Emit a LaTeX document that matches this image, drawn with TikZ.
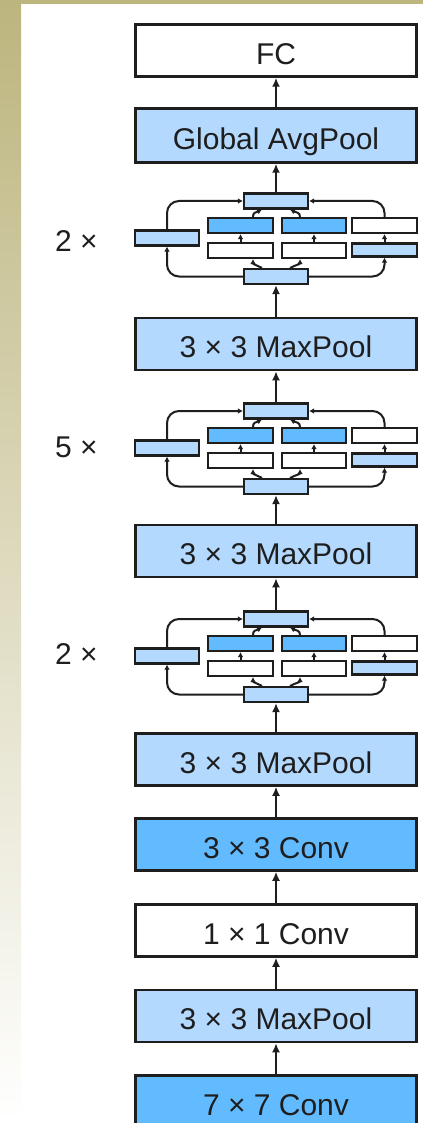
\documentclass[tikz,border=0pt]{standalone}
\usepackage{fontspec}
\setmainfont{Liberation Sans}
\usetikzlibrary{arrows.meta,calc}
\definecolor{lb}{HTML}{B3D9FF}
\definecolor{db}{HTML}{63BBFF}
\definecolor{lc}{HTML}{1E1E1E}
\definecolor{olv}{HTML}{BCB57E}
\newcommand{\incep}[2]{%
\begin{scope}[shift={(0,#2)}]
\node[sb, fill=lb] (#1t) at (276,7) {};
\node[sb, fill=db, minimum width=65pt] (#1a1) at (240.5,31.5) {};
\node[sb, fill=db] (#1b1) at (314,31.5) {};
\node[sb, fill=white, minimum width=65pt] (#1c1) at (384.5,31.5) {};
\node[sb, fill=white, minimum width=65pt] (#1a2) at (240.5,56.5) {};
\node[sb, fill=white] (#1b2) at (314,56.5) {};
\node[sb, fill=lb, minimum width=65pt, minimum height=13pt] (#1c2) at (384.5,56) {};
\node[sb, fill=lb] (#1d) at (167,44) {};
\node[sb, fill=lb] (#1s) at (276,82.5) {};
\draw[sa] (#1a2) -- (#1a1);
\draw[sa] (#1b2) -- (#1b1);
\draw[sa] (#1c2) -- (#1c1);
\draw[sa, rounded corners=12pt] (#1s.west) -| (#1d.south);
\draw[sa, rounded corners=12pt] (#1d.north) |- (#1t.west);
\draw[sa, rounded corners=12pt] (#1s.east) -| (#1c2.south);
\draw[sa, rounded corners=12pt] (#1c1.north) |- (#1t.east);
\draw[sa] ($(#1s.north)+(-14,0)$) .. controls +(-6,-3) and +(0,5) .. ($(#1a2.south)+(12.5,0)$);
\draw[sa] ($(#1s.north)+(14,0)$) .. controls +(6,-3) and +(0,5) .. ($(#1b2.south)+(-14,0)$);
\draw[sa] ($(#1a1.north)+(12.5,0)$) .. controls +(0,-5) and +(-6,3) .. ($(#1t.south)+(-14,0)$);
\draw[sa] ($(#1b1.north)+(-14,0)$) .. controls +(0,-5) and +(6,3) .. ($(#1t.south)+(14,0)$);
\end{scope}}
\begin{document}
\begin{tikzpicture}[x=1pt,y=-1pt,
 mb/.style={draw=lc, line width=2.5pt, minimum width=281pt, minimum height=52pt, inner sep=0pt,
   font=\fontsize{30}{31}\selectfont, text=lc, text height=27.5pt, text depth=0pt},
 sb/.style={draw=lc, line width=2.1pt, minimum width=64pt, minimum height=15pt, inner sep=0pt},
 ma/.style={draw=lc, line width=2.4pt, -{Latex[length=9pt,width=8pt]}},
 sa/.style={draw=lc, line width=2pt, -{Latex[length=5pt,width=5.5pt]}},
 lab/.style={font=\fontsize{30}{31}\selectfont, text=lc, inner sep=0pt, text height=21.5pt, text depth=0pt}]
\useasboundingbox (0,0) rectangle (423,1123);
\fill[white] (0,0) rectangle (423,1123);
\fill[olv] (0,0) rectangle (423,3.7);
\shade[top color=olv, bottom color=white] (0,0) rectangle (21,1123);

\node[mb, fill=white] (fc) at (276,50.5) {FC};
\node[mb, fill=lb, minimum height=54pt] (gap) at (276,135.5) {Global AvgPool};
\node[mb, fill=lb] (mp1) at (276,344) {3 × 3 MaxPool};
\node[mb, fill=lb] (mp2) at (276,551) {3 × 3 MaxPool};
\node[mb, fill=lb] (mp3) at (276,759.5) {3 × 3 MaxPool};
\node[mb, fill=db] (c3) at (276,844.5) {3 × 3 Conv};
\node[mb, fill=white] (c1) at (276,930.5) {1 × 1 Conv};
\node[mb, fill=lb] (mp0) at (276,1016) {3 × 3 MaxPool};
\node[mb, fill=db] (c7) at (276,1101.5) {7 × 7 Conv};

\incep{A}{194}
\incep{B}{404}
\incep{C}{612}

\node[lab, anchor=west] (la) at (55,241) {2 ×};
\node[lab, anchor=west] (lb) at (55,447) {5 ×};
\node[lab, anchor=west] (lcc) at (55,654) {2 ×};

\draw[ma] (c7.north) -- (mp0.south);
\draw[ma] (mp0.north) -- (c1.south);
\draw[ma] (c1.north) -- (c3.south);
\draw[ma] (c3.north) -- (mp3.south);
\draw[ma] (mp3.north) -- (Cs.south);
\draw[ma] (Ct.north) -- (mp2.south);
\draw[ma] (mp2.north) -- (Bs.south);
\draw[ma] (Bt.north) -- (mp1.south);
\draw[ma] (mp1.north) -- (As.south);
\draw[ma] (At.north) -- (gap.south);
\draw[ma] (gap.north) -- (fc.south);
\end{tikzpicture}
\end{document}
